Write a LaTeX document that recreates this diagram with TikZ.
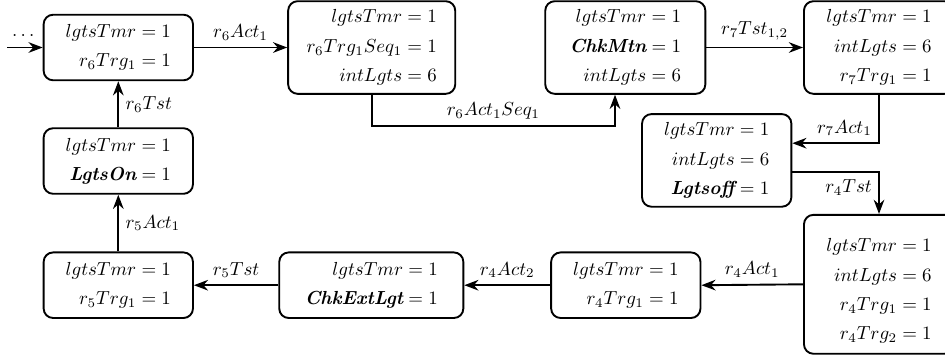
\documentclass[tikz,border=0pt]{standalone}
\usepackage{amsmath}
\usetikzlibrary{arrows.meta,calc}
% bold italic names of flags
\newcommand{\flagname}[1]{\mbox{\bfseries\itshape #1}}
\begin{document}
\begin{tikzpicture}[x=0.5291pt, y=-0.5291pt,
  state/.style={draw, line width=1pt, rounded corners=5pt, align=right,
    inner sep=3.33pt, minimum width=79pt, minimum height=34.7pt},
  tall/.style={minimum height=49pt},
  conn/.style={line width=1pt, -{Stealth}}]
\useasboundingbox (0,0) rectangle (945,356);

% states of the upper row
\node[state] (A) at (118.3,47.5) {$lgtsTmr = 1$\\[3.5pt]$r_6Trg_1 = 1$};
\node[state, tall, minimum width=88.4pt] (B) at (371.7,47.5)
  {$lgtsTmr = 1$\\[3.5pt]$r_6Trg_1Seq_1 = 1$\\[3.5pt]$intLgts = 6$};
\node[state, tall, minimum width=84.7pt] (C) at (625.3,47.5)
  {$lgtsTmr = 1$\\[3.5pt]$\flagname{ChkMtn} = 1$\\[3.5pt]$intLgts = 6$};
\node[state, tall, minimum width=79.4pt] (D) at (879,47.5)
  {$lgtsTmr = 1$\\[3.5pt]$intLgts = 6$\\[3.5pt]$r_7Trg_1 = 1$};

% right column
\node[state, tall] (E) at (716.7,160.4)
  {$lgtsTmr = 1$\\[3.5pt]$intLgts = 6$\\[3.5pt]$\flagname{Lgtsoff} = 1$};
\node[state, minimum width=79.4pt, minimum height=73.5pt] (F) at (879,284.3)
  {\rule{0pt}{14pt}$lgtsTmr = 1$\\[3.5pt]$intLgts = 6$\\[3.5pt]$r_4Trg_1 = 1$\\[3.5pt]$r_4Trg_2 = 1$};

% lower row and left column
\node[state] (G) at (625.8,285.2) {$lgtsTmr = 1$\\[3.5pt]$r_4Trg_1 = 1$};
\node[state, minimum width=97.4pt] (H) at (371.3,285.2)
  {$lgtsTmr = 1$\\[3.5pt]$\flagname{ChkExtLgt} = 1$};
\node[state] (I) at (118.3,285.2) {$lgtsTmr = 1$\\[3.5pt]$r_5Trg_1 = 1$};
\node[state] (J) at (118.3,161) {$lgtsTmr = 1$\\[3.5pt]$\flagname{LgtsOn} = 1$};

% attachment points
\coordinate (start) at (7,47.5);
\coordinate (Cin) at ($(C.south)+(-10.3,0)$);
\coordinate (Ein) at ($(E.east)+(0,-17.2)$);
\coordinate (Eout) at ($(E.east)+(0,11.8)$);

% transitions
\draw[conn] (start) -- node[midway, yshift=6.5pt] {$\dots$} (A.west);
\draw[conn] (A.east) -- node[above] {$r_6Act_1$} (B.west);
\draw[conn] (B.south) -- ++(0,31.5) -| node[pos=0.25, above] {$r_6Act_1Seq_1$} (Cin);
\draw[conn] (C.east) -- node[above] {$r_7Tst_{1,2}$} (D.west);
\draw[conn] (D.south) |- node[pos=0.5, above left] {$r_7Act_1$} (Ein);
\draw[conn] (Eout) -| node[pos=0.5, below left] {$r_4Tst$} (F.north);
\draw[conn] (F.west) -- node[above] {$r_4Act_1$} (G.east);
\draw[conn] (G.west) -- node[above] {$r_4Act_2$} (H.east);
\draw[conn] (H.west) -- node[above] {$r_5Tst$} (I.east);
\draw[conn] (I.north) -- node[right] {$r_5Act_1$} (J.south);
\draw[conn] (J.north) -- node[right] {$r_6Tst$} (A.south);
\end{tikzpicture}
\end{document}
